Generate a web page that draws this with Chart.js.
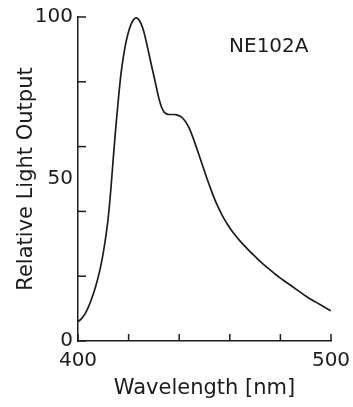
<!DOCTYPE html>
<html>
<head>
<meta charset="utf-8">
<script src="https://cdn.jsdelivr.net/npm/chart.js@4/dist/chart.umd.min.js"></script>
<style>
  html, body { margin: 0; padding: 0; background: #ffffff; }
  #wrap { width: 353px; height: 407px; }
</style>
</head>
<body>
<div id="wrap"><canvas id="c" width="353" height="407"></canvas></div>
<script>
// ---- data ----
const wavelength = [400,401,402,403,404,405,406,407,408,409,410,411,412,413,414,415,416,417,418,419,
  420,421,422,423,424,425,426,427,428,429,430,431,432,433,434,435,436,437,438,439,
  440,441,442,443,444,445,446,447,448,449,450,451,452,453,454,455,456,457,458,459,
  460,462,464,466,468,470,472,474,476,478,480,482,484,486,488,490,492,494,496,498,500];
const lightOutput = [6,6.6,7.5,8.7,10.3,12.2,14.4,16.9,19.8,23.2,27.3,32.3,38.5,47,57,66.5,75,82.5,88,92.3,
  95.5,97.8,99.2,99.7,99.2,97.8,95.5,92.3,88.8,85.2,81.8,78.2,74.8,72.2,70.7,70.1,69.9,69.9,69.9,69.8,
  69.5,69,68.2,67.1,65.6,63.7,61.6,59.3,57,54.7,52.4,50.1,47.9,45.8,43.8,42,40.3,38.8,37.4,36.1,
  34.9,32.8,30.9,29.2,27.6,26.1,24.6,23.2,21.9,20.6,19.4,18.3,17.2,16.1,15,13.9,12.9,12,11.1,10.2,9.3];
const xTickMarks = [400,420,440,460,480,500];
const yTickMarks = [0,20,40,60,80,100];
const xTickLabels = [400,500];
const yTickLabels = [0,50,100];
const xTitle = 'Wavelength [nm]';
const yTitle = 'Relative Light Output';
const labelText = 'NE102A';
const labelAt = [475.4, 90.7];

const INK = '#1c1c1c';
const FONT = 'DejaVu Sans';

const tickPlugin = {
  id: 'innerTicks',
  afterDraw(chart) {
    const {ctx, scales: {x, y}} = chart;
    ctx.save();
    ctx.strokeStyle = INK;
    ctx.lineWidth = 1.5;
    const y0 = y.getPixelForValue(0);
    const x0 = x.getPixelForValue(400);
    xTickMarks.forEach(v => {
      const px = x.getPixelForValue(v);
      ctx.beginPath(); ctx.moveTo(px, y0); ctx.lineTo(px, y0 - 7); ctx.stroke();
    });
    yTickMarks.forEach(v => {
      const py = y.getPixelForValue(v);
      ctx.beginPath(); ctx.moveTo(x0, py); ctx.lineTo(x0 + 8, py); ctx.stroke();
    });
    ctx.fillStyle = INK;
    ctx.font = '20px "' + FONT + '"';
    ctx.textAlign = 'center';
    ctx.textBaseline = 'middle';
    ctx.fillText(labelText, x.getPixelForValue(labelAt[0]), y.getPixelForValue(labelAt[1]));
    ctx.restore();
  }
};

new Chart(document.getElementById('c'), {
  type: 'line',
  data: {
    datasets: [{
      data: wavelength.map((w, i) => ({x: w, y: lightOutput[i]})),
      borderColor: INK,
      borderWidth: 1.7,
      pointRadius: 0,
      fill: false,
      cubicInterpolationMode: 'monotone'
    }]
  },
  options: {
    responsive: false,
    animation: false,
    devicePixelRatio: 1,
    layout: { padding: { left: 0, right: 22, top: 16, bottom: 0 } },
    plugins: { legend: { display: false }, tooltip: { enabled: false } },
    scales: {
      x: {
        type: 'linear', min: 400, max: 500,
        afterBuildTicks: s => { s.ticks = xTickLabels.map(v => ({value: v})); },
        afterFit: s => { s.height = 66; s.paddingRight = 0; s.paddingLeft = 0; },
        grid: { display: false, drawTicks: false },
        border: { display: true, color: INK, width: 1.5 },
        ticks: { color: INK, font: { family: FONT, size: 20 }, padding: 8, maxRotation: 0, autoSkip: false },
        title: { display: true, text: xTitle, color: INK, font: { family: FONT, size: 21 }, padding: { top: 0, bottom: 6 } }
      },
      y: {
        min: 0, max: 100,
        afterBuildTicks: s => { s.ticks = yTickLabels.map(v => ({value: v})); },
        afterFit: s => { s.width = 78; },
        grid: { display: false, drawTicks: false },
        border: { display: true, color: INK, width: 1.5 },
        ticks: { color: INK, font: { family: FONT, size: 20 }, padding: 5, autoSkip: false },
        title: { display: true, text: yTitle, color: INK, font: { family: FONT, size: 21 }, padding: { top: 14, bottom: 0 } }
      }
    }
  },
  plugins: [tickPlugin]
});
</script>
</body>
</html>
